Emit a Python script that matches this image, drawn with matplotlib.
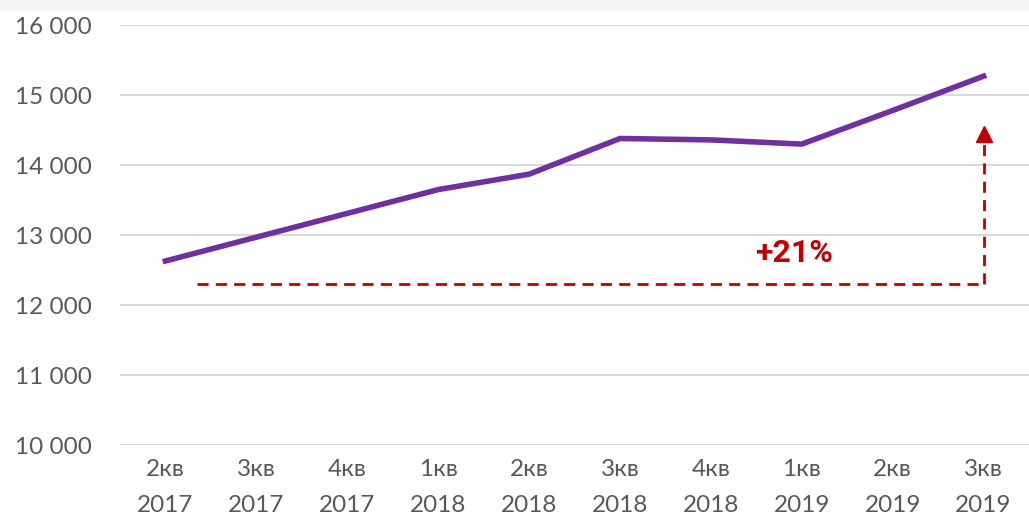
import matplotlib.pyplot as plt
import matplotlib.patches as mpatches

# Data
quarters = ['2кв\n2017', '3кв\n2017', '4кв\n2017', '1кв\n2018', '2кв\n2018',
            '3кв\n2018', '4кв\n2018', '1кв\n2019', '2кв\n2019', '3кв\n2019']
values = [12630, 12970, 13310, 13650, 13870, 14380, 14360, 14300, 14780, 15270]
growth_label = '+21%'

plt.rcParams['font.family'] = ['Lato', 'DejaVu Sans']

fig = plt.figure(figsize=(10.29, 5.23), dpi=100)
# faint band at the top of the slide
fig.patches.append(mpatches.Rectangle((0, 0.982), 1, 0.018, transform=fig.transFigure,
                                      color='#F3F5F5', zorder=0))
ax = fig.add_axes([0.1166, 0.149, 0.8834, 0.803])

x = range(len(values))
ax.plot(x, values, color='#7030A0', linewidth=4.0, solid_joinstyle='miter', zorder=3)

ax.set_xlim(-0.5, len(values) - 0.5)
ax.set_ylim(10000, 16000)
ax.set_yticks(range(10000, 16001, 1000))
ax.set_yticklabels([f'{v:,}'.replace(',', ' ') for v in range(10000, 16001, 1000)])
ax.set_xticks(list(x))
ax.set_xticklabels(quarters, linespacing=1.9)

ax.grid(axis='y', color='#D9D9D9', linewidth=1.5)
ax.set_axisbelow(True)
for s in ax.spines.values():
    s.set_visible(False)
ax.tick_params(axis='both', length=0, labelsize=17.5, labelcolor='#595959')
ax.tick_params(axis='x', pad=10)
ax.tick_params(axis='y', pad=20)

# growth annotation
red = '#C00000'
base = 12300
ax.plot([0.35, 9.0], [base, base], color=red, linewidth=2.0, dashes=(4, 2.6))
ax.plot([9.0, 9.0], [base, 14400], color=red, linewidth=2.0, dashes=(4, 2.6))
ax.plot([9.0], [14450], marker='^', markersize=12, color=red, linestyle='none')
ax.text(6.92, 12740, growth_label, color=red, fontsize=23, fontweight='bold',
        family=['Roboto', 'DejaVu Sans'], ha='center', va='center')

fig.savefig('out.png', dpi=100)
